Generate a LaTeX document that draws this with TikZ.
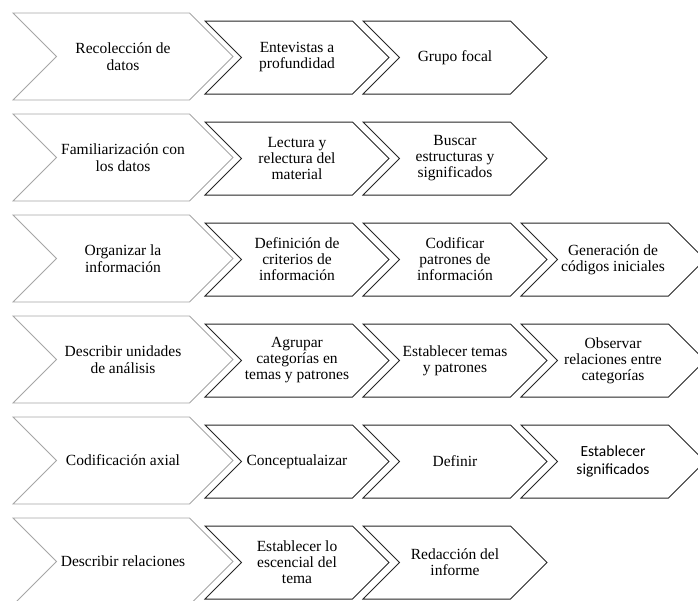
\documentclass[tikz,border=0pt]{standalone}
\usepackage{fontspec}
\setmainfont{Liberation Serif}
\newfontfamily\timesfont{Liberation Serif}
\newfontfamily\calibrifont{Carlito}
\usetikzlibrary{shapes.symbols}

\tikzset{
  fase/.style={signal, signal to=east, signal from=west, signal pointer angle=90,
    draw=black!35, line width=0.9pt, fill=white, minimum width=220pt, minimum height=87pt,
    inner sep=0pt, align=center, font=\timesfont\fontsize{15.5}{16.5}\selectfont},
  tarea/.style={signal, signal to=east, signal from=west, signal pointer angle=90,
    draw=black!85, line width=1pt, fill=white, minimum width=184pt, minimum height=73pt,
    inner sep=0pt, align=center, font=\timesfont\fontsize{15.5}{16}\selectfont}
}

\begin{document}
\begin{tikzpicture}[x=1pt, y=-1pt]
                \useasboundingbox (0, 0) rectangle (698, 600);
                % Row 1:
                \node[fase] (fase1) at (123, 56.5) {Recolección de\\datos};
                \node[tarea] (t11) at (297, 57.5) {Entevistas a\\profundidad};
                \node[tarea] (t12) at (455, 57.5) {Grupo focal};
                % Row 2:
                \node[fase] (fase2) at (123, 157.5) {Familiarización con\\los datos};
                \node[tarea] (t21) at (297, 158.5) {Lectura y\\relectura del\\material};
                \node[tarea] (t22) at (455, 158.5) {Buscar\\estructuras y\\significados};
                % Row 3:
                \node[fase] (fase3) at (123, 258.5) {Organizar la\\información};
                \node[tarea] (t31) at (297, 259.5) {Definición de\\criterios de\\información};
                \node[tarea] (t32) at (455, 259.5) {Codificar\\patrones de\\información};
                \node[tarea] (t33) at (613, 259.5) {Generación de\\códigos iniciales};
                % Row 4:
                \node[fase] (fase4) at (123, 359.5) {Describir unidades\\de análisis};
                \node[tarea] (t41) at (297, 360.5) {Agrupar\\categorías en\\temas y patrones};
                \node[tarea] (t42) at (455, 360.5) {Establecer temas\\y patrones};
                \node[tarea] (t43) at (613, 360.5) {Observar\\relaciones entre\\categorías};
                % Row 5:
                \node[fase] (fase5) at (123, 460.5) {Codificación axial};
                \node[tarea] (t51) at (297, 461.5) {Conceptualaizar};
                \node[tarea] (t52) at (455, 461.5) {Definir};
                \node[tarea, font=\calibrifont\fontsize{15.5}{18}\selectfont] (t53) at (613, 461.5) {Establecer\\significados};
                % Row 6:
                \node[fase] (fase6) at (123, 561.5) {Describir relaciones};
                \node[tarea] (t61) at (297, 562.5) {Establecer lo\\escencial del\\tema};
                \node[tarea] (t62) at (455, 562.5) {Redacción del\\informe};
            \end{tikzpicture}
\end{document}
